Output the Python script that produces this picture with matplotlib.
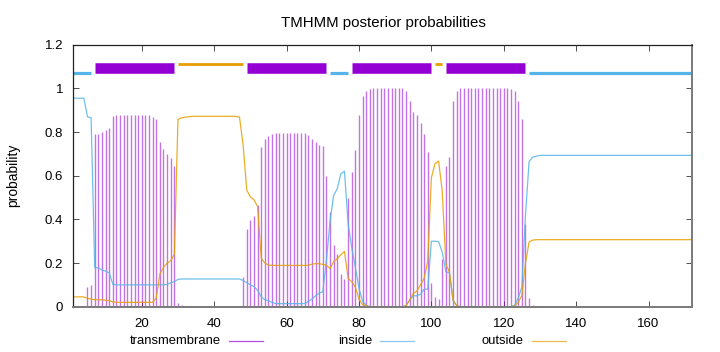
import numpy as np
import matplotlib
matplotlib.use("Agg")
import matplotlib.pyplot as plt
from matplotlib.lines import Line2D

plt.rcParams['font.family'] = ['Liberation Sans', 'DejaVu Sans']

# ---- data -------------------------------------------------------------
positions = np.arange(1, 173)

transmembrane = ([0, 0, 0, 0, 0.092, 0.10,
                  0.79, 0.79, 0.80, 0.81, 0.82, 0.875]
                 + [0.88] * 9
                 + [0.877, 0.87, 0.861, 0.756, 0.722, 0.70, 0.68, 0.645,
                    0.017, 0.008, 0.005, 0.003, 0.002, 0.001, 0.001, 0.001,
                    0.001, 0.001, 0.001, 0.004, 0.001, 0.001, 0.002, 0.003,
                    0.004, 0.005,
                    0.137, 0.356, 0.397, 0.417, 0.467, 0.733, 0.768, 0.783, 0.79]
                 + [0.797] * 9
                 + [0.786, 0.77, 0.753, 0.741, 0.738, 0.60, 0.435, 0.283, 0.241,
                    0.15, 0.127,
                    0.50, 0.615, 0.72, 0.88, 0.965, 0.99]
                 + [0.997] + [1.0] * 9
                 + [0.99, 0.94, 0.89, 0.878, 0.843, 0.79, 0.71, 0.11, 0.045,
                    0.035, 0.22, 0.645, 0.687, 0.943, 0.99]
                 + [1.0] * 14
                 + [0.998, 0.99, 0.94, 0.858, 0.38, 0.038, 0.01, 0.003]
                 + [0.0] * 43)

inside = ([0.955] * 4
          + [0.87, 0.865, 0.18, 0.178, 0.168, 0.163, 0.155, 0.103]
          + [0.10] * 14
          + [0.102, 0.11, 0.115, 0.125]
          + [0.127] * 17
          + [0.12, 0.11, 0.10, 0.092, 0.075, 0.045, 0.032, 0.027, 0.02]
          + [0.014] * 9
          + [0.024, 0.035, 0.05, 0.062, 0.068, 0.21, 0.39, 0.51, 0.54, 0.61, 0.62,
             0.38, 0.27, 0.18, 0.085, 0.025, 0.006]
          + [0.0] * 10
          + [0.005, 0.03, 0.05, 0.05, 0.057, 0.08, 0.08, 0.30, 0.30, 0.298,
             0.25, 0.16, 0.155, 0.027, 0.005]
          + [0.0] * 14
          + [0.001, 0.007, 0.04, 0.09, 0.42, 0.665, 0.685, 0.69]
          + [0.693] * 43)

outside = ([0.045] * 4
           + [0.038, 0.035, 0.032, 0.032, 0.032, 0.03, 0.028, 0.022]
           + [0.02] * 11
           + [0.04, 0.15, 0.18, 0.20, 0.21, 0.24,
              0.858, 0.865, 0.868, 0.87]
           + [0.872] * 13
           + [0.868,
              0.74, 0.534, 0.503, 0.49, 0.458, 0.222, 0.20, 0.19, 0.19]
           + [0.189] * 9
           + [0.19, 0.195, 0.197, 0.197, 0.194, 0.19, 0.175, 0.206, 0.22, 0.238,
              0.253,
              0.13, 0.115, 0.09, 0.035, 0.01, 0.004]
           + [0.0] * 10
           + [0.005, 0.03, 0.06, 0.072, 0.10, 0.13, 0.21, 0.59, 0.655, 0.667,
              0.53, 0.195, 0.158, 0.03, 0.005]
           + [0.0] * 14
           + [0.001, 0.003, 0.02, 0.052, 0.20, 0.297, 0.305, 0.307]
           + [0.307] * 43)

# predicted topology (start, end)
inside_segments = [(1, 6), (72, 77), (127, 172)]
outside_segments = [(30, 48), (101, 103)]
tm_segments = [(7, 29), (49, 71), (78, 100), (104, 126)]

title = "TMHMM posterior probabilities"
legend_labels = ["transmembrane", "inside", "outside"]
x_ticks = [20, 40, 60, 80, 100, 120, 140, 160]
y_ticks = [0, 0.2, 0.4, 0.6, 0.8, 1.0, 1.2]
y_tick_labels = ["0", "0.2", "0.4", "0.6", "0.8", "1", "1.2"]

# ---- style ------------------------------------------------------------
c_tm = "#9400D3"
c_in = "#56B4E9"
c_out = "#E69F00"

fig = plt.figure(figsize=(7.2, 3.52), dpi=100)
ax = fig.add_axes([73 / 720, 1 - 306.7 / 352, 619 / 720, 262 / 352])

ax.vlines(positions, 0, transmembrane, colors=c_tm, lw=1.0, alpha=0.55)
ax.plot(positions, inside, color=c_in, lw=0.9, alpha=0.85)
ax.plot(positions, outside, color=c_out, lw=0.9, alpha=0.85)

# topology bars on top
for s, e in inside_segments:
    lc = ax.hlines(1.072, s, e, colors=c_in, lw=2.3)
    lc.set_capstyle('butt')
for s, e in outside_segments:
    lc = ax.hlines(1.112, s, e, colors=c_out, lw=2.0)
    lc.set_capstyle('butt')
for s, e in tm_segments:
    lc = ax.hlines(1.0935, s, e, colors=c_tm, lw=7.6)
    lc.set_capstyle('butt')

ax.set_xlim(1, 172)
ax.set_ylim(0, 1.2)
ax.set_xticks(x_ticks)
ax.set_yticks(y_ticks)
ax.set_yticklabels(y_tick_labels)
ax.tick_params(direction='in', length=4, width=0.6, labelsize=9.5,
               top=True, right=True, pad=7, colors='#333333', labelcolor='black')
ax.tick_params(axis='x', pad=8)

for side in ['left', 'top']:
    ax.spines[side].set_linewidth(0.9)
    ax.spines[side].set_color('#222222')
for side in ['right', 'bottom']:
    ax.spines[side].set_linewidth(1.4)
    ax.spines[side].set_color('#7a7a7a')

ax.set_ylabel("probability", fontsize=10)
ax.yaxis.set_label_coords(-0.0856, 0.5)
fig.text(383 / 720, 1 - 22.5 / 352, title, ha='center', va='center', fontsize=10.8)

# gnuplot-style key at the bottom (text right-justified before the sample)
key_text_right = [220.7, 372, 524]
key_y = 1 - 340.7 / 352
for lab, xr, col in zip(legend_labels, key_text_right, [c_tm, c_in, c_out]):
    fig.text(xr / 720, key_y, lab, ha='right', va='center', fontsize=9.4)
    fig.add_artist(Line2D([(xr + 8) / 720, (xr + 42) / 720], [key_y, key_y],
                          color=col, lw=0.9, alpha=0.7, transform=fig.transFigure))

fig.savefig("out.png", dpi=100)
